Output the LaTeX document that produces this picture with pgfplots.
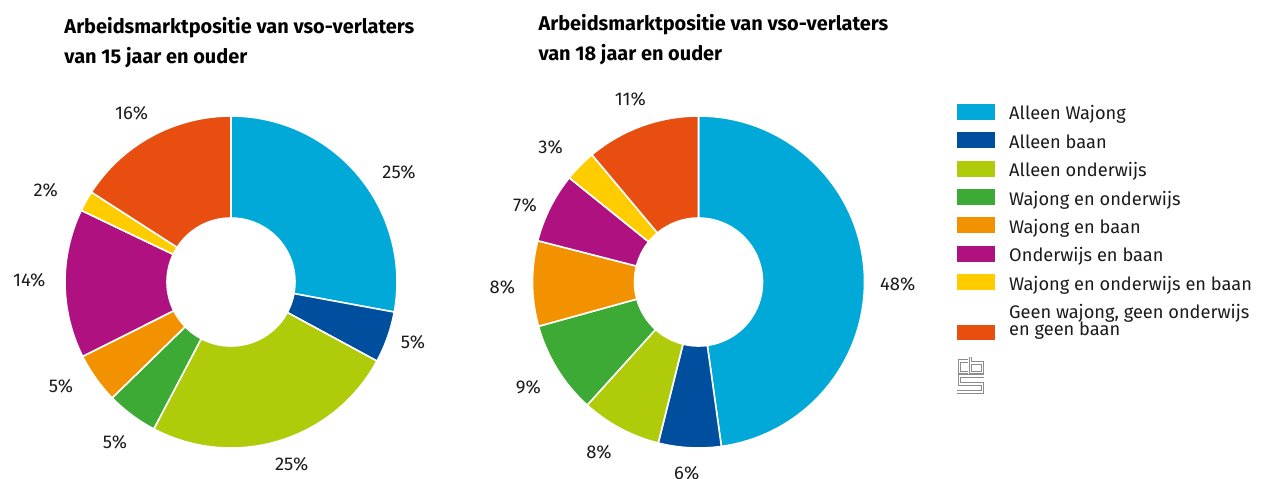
\documentclass[border=0pt]{standalone}
\usepackage{pgfplots}
\usepackage{pgfplotstable}
\pgfplotsset{compat=1.18}
\usepackage{fontspec}
\setmainfont{Fira Sans}
\definecolor{cwaj}{HTML}{00A9D8}
\definecolor{cbaan}{HTML}{004F9F}
\definecolor{cond}{HTML}{AFCB0A}
\definecolor{cwo}{HTML}{3CAA35}
\definecolor{cwb}{HTML}{F39200}
\definecolor{cob}{HTML}{AF1280}
\definecolor{cwob}{HTML}{FFCC00}
\definecolor{cgeen}{HTML}{E84E10}
\definecolor{txt}{HTML}{1A1A1A}

% share = slice size (%), lab = printed label, lx/ly = label position in px from top-left
\pgfplotstableread{
share lab col   lx    ly
27.9  25  cwaj  399.0 172.7
5.0   5   cbaan 413.0 342.7
24.8  25  cond  291.7 464.0
5.0   5   cwo   115.0 442.7
4.9   5   cwb   61.0  386.7
14.5  14  cob   29.3  280.0
2.0   2   cwob  45.7  190.0
15.9  16  cgeen 131.7 113.3
}\vijftien
\pgfplotstableread{
share lab col   lx    ly
47.8  48  cwaj  897.7 284.0
6.1   6   cbaan 686.7 473.3
7.8   8   cond  599.0 452.3
9.0   9   cwo   528.3 387.7
8.3   8   cwb   502.3 287.3
6.8   7   cob   525.0 205.0
3.1   3   cwob  550.7 147.3
11.1  11  cgeen 630.3 99.3
}\achttien

% #1 table, #2 centre x (px), #3 centre y (px from top), #4 outer radius, #5 inner radius
\newcommand{\donut}[5]{%
  \pgfplotstablegetrowsof{#1}%
  \pgfmathtruncatemacro{\nlast}{\pgfplotsretval-1}%
  \gdef\angA{90}%
  \foreach \i in {0,...,\nlast}{%
    \pgfplotstablegetelem{\i}{share}\of{#1}\let\sh\pgfplotsretval
    \pgfplotstablegetelem{\i}{col}\of{#1}\let\cc\pgfplotsretval
    \pgfplotstablegetelem{\i}{lab}\of{#1}\let\lb\pgfplotsretval
    \pgfplotstablegetelem{\i}{lx}\of{#1}\let\lx\pgfplotsretval
    \pgfplotstablegetelem{\i}{ly}\of{#1}\let\ly\pgfplotsretval
    \pgfmathsetmacro{\angB}{\angA-3.6*\sh}%
    \pgfmathsetmacro{\xo}{#2+#4*cos(\angA)}%
    \pgfmathsetmacro{\yo}{479-#3+#4*sin(\angA)}%
    \pgfmathsetmacro{\xi}{#2+#5*cos(\angB)}%
    \pgfmathsetmacro{\yi}{479-#3+#5*sin(\angB)}%
    \pgfmathsetmacro{\lyy}{479-\ly}%
    \edef\slice{%
      \noexpand\fill[\cc,draw=white,line width=1.6pt]
        (axis cs:\xo,\yo) arc[start angle=\angA,end angle=\angB,radius=#4bp]
        -- (axis cs:\xi,\yi) arc[start angle=\angB,end angle=\angA,radius=#5bp] -- cycle;
      \noexpand\node[lbl] at (axis cs:\lx,\lyy) {\lb\noexpand\%};}%
    \slice
    \xdef\angA{\angB}%
  }%
}
\newcommand{\cbslogo}{%
  (axis cs:968,118) -- (axis cs:959.5,118) -- (axis cs:959.5,106.5) -- (axis cs:968,106.5)
  (axis cs:970.5,122) -- (axis cs:970.5,106.5) -- (axis cs:982.5,106.5) -- (axis cs:982.5,116) -- (axis cs:970.5,116)
  (axis cs:984,103) -- (axis cs:959.5,103) -- (axis cs:959.5,95) -- (axis cs:982.5,95) -- (axis cs:982.5,87) -- (axis cs:957,87)}

\begin{document}
\begin{tikzpicture}[
  lbl/.style={font=\fontsize{18.5}{22}\selectfont,text=txt,inner sep=0pt},
  ttl/.style={font=\fontsize{20}{24}\selectfont\bfseries,text=black,anchor=base west,inner sep=0pt},
  leg/.style={font=\fontsize{18.3}{22}\selectfont,text=txt,anchor=base west,inner sep=0pt}]
\begin{axis}[width=1261bp,height=479bp,scale only axis,
  xmin=0,xmax=1261,ymin=0,ymax=479,hide axis,clip=false]
\donut{\vijftien}{231}{282}{166}{64}
\donut{\achttien}{698.5}{282}{166}{64}

\node[ttl] at (axis cs:64.3,445.7) {Arbeidsmarktpositie van vso-verlaters};
\node[ttl] at (axis cs:64.3,415) {van 15 jaar en ouder};
\node[ttl] at (axis cs:538.3,448.3) {Arbeidsmarktpositie van vso-verlaters};
\node[ttl] at (axis cs:538.3,418) {van 18 jaar en ouder};

% legend
\foreach \c/\t [count=\k from 0] in {cwaj/Alleen Wajong,cbaan/Alleen baan,cond/Alleen onderwijs,
  cwo/Wajong en onderwijs,cwb/Wajong en baan,cob/Onderwijs en baan,cwob/Wajong en onderwijs en baan}{%
  \pgfmathsetmacro{\yb}{479-120-28.35*\k}%
  \edef\legrow{%
    \noexpand\fill[\c] (axis cs:957,\yb) rectangle (axis cs:995,\yb+16);
    \noexpand\node[leg] at (axis cs:1009,\yb) {\t};}%
  \legrow
}
\fill[cgeen] (axis cs:957,139) rectangle (axis cs:995,154);
\node[leg] at (axis cs:1009,160.7) {Geen wajong, geen onderwijs};
\node[leg] at (axis cs:1009,143) {en geen baan};

% cbs logo
\draw[black!45,line width=3.2pt] \cbslogo;
\draw[white,line width=1.1pt] \cbslogo;
\end{axis}
\pgfresetboundingbox
\path (current axis.south west) rectangle (current axis.north east);
\end{tikzpicture}
\end{document}
